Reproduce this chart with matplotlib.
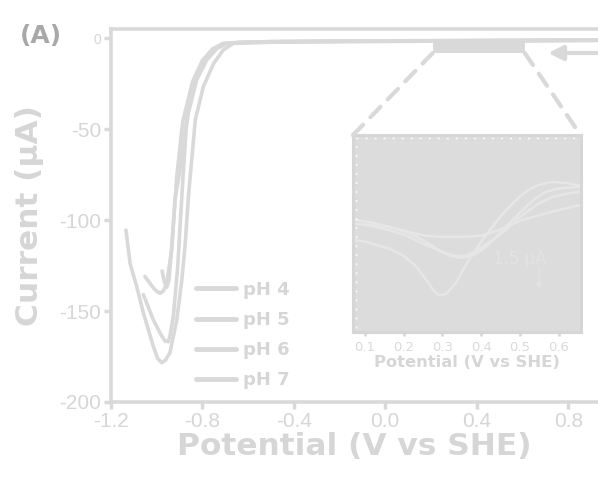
import matplotlib
matplotlib.use("Agg")
import matplotlib.pyplot as plt
from matplotlib.patches import Rectangle, ConnectionPatch

plt.rcParams['axes.unicode_minus'] = False

GRAY = '#d9d9d9'
TXT = '#d6d6d6'

# ---- data (main panel) ----
labels = ['pH 4', 'pH 5', 'pH 6', 'pH 7']

x_ph4 = [0.93, 0.6, 0.2, -0.2, -0.5, -0.62, -0.69, -0.735, -0.78, -0.824, -0.868, -0.90, -0.919, -0.933, -0.955, -0.97, -0.984, -1.0, -1.015, -1.05]
y_ph4 = [-1.0, -1.2, -1.4, -1.6, -1.9, -2.3, -2.9, -5.7, -12, -23, -45, -75, -89, -116, -135, -139, -140.3, -139, -137, -131]

x_ph5 = [0.93, 0.6, 0.2, -0.2, -0.5, -0.64, -0.71, -0.755, -0.80, -0.842, -0.885, -0.91, -0.93, -0.945, -0.955, -0.965, -0.975]
y_ph5 = [-1.1, -1.3, -1.5, -1.7, -2.0, -2.4, -3.0, -6.0, -12.5, -24, -46, -75, -110, -133, -137, -134, -128]

x_ph6 = [0.93, 0.6, 0.2, -0.2, -0.5, -0.65, -0.705, -0.75, -0.795, -0.85, -0.87, -0.883, -0.895, -0.907, -0.926, -0.94, -0.948, -0.962, -0.98, -1.013, -1.057]
y_ph6 = [-1.2, -1.4, -1.6, -1.8, -2.1, -2.5, -3.0, -6.2, -13, -30, -50, -75, -100, -126, -153, -163, -166.9, -166.5, -163, -155, -141]

x_ph7 = [0.93, 0.6, 0.2, -0.2, -0.5, -0.664, -0.708, -0.75, -0.795, -0.83, -0.86, -0.875, -0.889, -0.911, -0.941, -0.96, -0.977, -0.995, -1.013, -1.057, -1.086, -1.115, -1.133]
y_ph7 = [-1.3, -1.5, -1.7, -2.0, -2.3, -2.9, -6.6, -14, -26.7, -45, -87, -114.7, -133, -155, -173, -177, -178.4, -176, -169.6, -151, -136.6, -123.8, -105.5]

main_x = [x_ph4, x_ph5, x_ph6, x_ph7]
main_y = [y_ph4, y_ph5, y_ph6, y_ph7]

xticks = [-1.2, -0.8, -0.4, 0.0, 0.4, 0.8]
xticklabels = ['-1.2', '-0.8', '-0.4', '0.0', '0.4', '0.8']
yticks = [0, -50, -100, -150, -200]
yticklabels = ['0', '-50', '-100', '-150', '-200']

# ---- data (inset) ----
ins_x1 = [0.07, 0.10, 0.13, 0.164, 0.20, 0.233, 0.26, 0.28, 0.292, 0.31, 0.335, 0.355, 0.378, 0.40, 0.421, 0.45, 0.48, 0.505, 0.532, 0.555, 0.583, 0.62, 0.651]
ins_y1 = [-5.83, -5.9, -6.1, -6.3, -6.7, -7.3, -8.1, -8.7, -8.9, -8.8, -8.2, -7.4, -6.6, -5.9, -5.3, -4.5, -3.8, -3.3, -2.9, -2.7, -2.6, -2.65, -2.8]
ins_x2 = [0.07, 0.12, 0.164, 0.21, 0.25, 0.29, 0.335, 0.37, 0.403, 0.435, 0.463, 0.50, 0.549, 0.60, 0.651]
ins_y2 = [-4.68, -4.85, -5.09, -5.35, -5.56, -5.64, -5.65, -5.62, -5.56, -5.35, -5.09, -4.75, -4.44, -4.15, -3.89]
ins_x3 = [0.07, 0.12, 0.164, 0.21, 0.25, 0.292, 0.32, 0.344, 0.36, 0.378, 0.40, 0.421, 0.44, 0.463, 0.49, 0.515, 0.54, 0.566, 0.60, 0.651]
ins_y3 = [-4.91, -4.98, -5.09, -5.4, -5.83, -6.39, -6.7, -6.8, -6.78, -6.67, -6.4, -6.02, -5.6, -5.09, -4.5, -3.98, -3.5, -3.15, -2.95, -2.87]
ins_x4 = [0.07, 0.12, 0.164, 0.21, 0.25, 0.29, 0.327, 0.345, 0.361, 0.38, 0.403, 0.43, 0.463, 0.49, 0.523, 0.55, 0.583, 0.62, 0.651]
ins_y4 = [-4.9, -5.05, -5.28, -5.6, -6.02, -6.4, -6.67, -6.72, -6.67, -6.5, -6.2, -5.8, -5.28, -4.7, -4.17, -3.75, -3.43, -3.25, -3.15]
inset_x = [ins_x1, ins_x2, ins_x3, ins_x4]
inset_y = [ins_y1, ins_y2, ins_y3, ins_y4]
ins_xticks = [0.1, 0.2, 0.3, 0.4, 0.5, 0.6]
ins_xticklabels = ['0.1', '0.2', '0.3', '0.4', '0.5', '0.6']

fig = plt.figure(figsize=(5.98, 4.78), dpi=100)
ax = fig.add_axes([0.185, 0.159, 0.815, 0.780])

for xs, ys, lab in zip(main_x, main_y, labels):
    ax.plot(xs, ys, color=GRAY, lw=2.6, label=lab, solid_capstyle='round',
            solid_joinstyle='round')

ax.set_xlim(-1.2, 0.93)
ax.set_ylim(-200, 4.9)
ax.set_xticks(xticks)
ax.set_xticklabels(xticklabels, family='Liberation Sans', fontsize=15, color=TXT)
ax.set_yticks(yticks)
ax.set_yticklabels(yticklabels, family='Liberation Sans', fontsize=15, color=TXT)
ax.get_yticklabels()[0].set_fontsize(10)
ax.tick_params(axis='both', direction='out', length=5, width=2.5, color=GRAY, pad=2)
for s in ['left', 'bottom', 'top']:
    ax.spines[s].set_color(GRAY)
    ax.spines[s].set_linewidth(2.6)
ax.spines['right'].set_visible(False)

ax.set_xlabel('Potential (V vs SHE)', fontsize=22.5, fontweight='bold', color=TXT,
              family='DejaVu Sans', labelpad=1)
ax.set_ylabel('Current (µA)', fontsize=22.5, fontweight='bold', color=TXT,
              family='DejaVu Sans', labelpad=11)

fig.text(0.034, 0.925, '(A)', fontsize=18, fontweight='bold', color='#a8a8a8',
         family='DejaVu Sans', va='center', ha='left')

leg = ax.legend(loc='upper left', bbox_to_anchor=(0.328, 0.413),
                bbox_transform=fig.transFigure, frameon=False,
                handlelength=2.2, handletextpad=0.4, labelspacing=0.68,
                borderpad=0, borderaxespad=0,
                prop={'family': 'DejaVu Sans', 'weight': 'bold', 'size': 13})
for t in leg.get_texts():
    t.set_color(TXT)
for h in leg.get_lines():
    h.set_linewidth(3.5)

# zoom rectangle in main axes
ax.add_patch(Rectangle((0.208, -8.2), 0.402, 6.0, facecolor=GRAY, edgecolor='none',
                       clip_on=False, zorder=3))

# scan direction arrow
ax.annotate('', xy=(0.70, -8.2), xytext=(0.96, -8.2), annotation_clip=False,
            arrowprops=dict(arrowstyle='-|>', color=GRAY, lw=3, mutation_scale=22))

# inset
axi = fig.add_axes([0.590, 0.305, 0.381, 0.412])
axi.set_facecolor('#dcdcdc')
for xs, ys in zip(inset_x, inset_y):
    axi.plot(xs, ys, color='#e6e6e6', lw=1.8, solid_joinstyle='round')
axi.set_xlim(0.069, 0.656)
axi.set_ylim(-10.94, 0)
axi.set_xticks(ins_xticks)
axi.set_xticklabels(ins_xticklabels, family='DejaVu Sans', fontsize=9.5, color='#dadada')
axi.set_yticks([])
axi.tick_params(axis='x', direction='out', length=3, width=2, color=GRAY, pad=3)
for s in axi.spines.values():
    s.set_color('#d6d6d6')
    s.set_linewidth(2.2)
axi.set_xlabel('Potential (V vs SHE)', fontsize=11.8, fontweight='bold', color='#d6d6d6',
               family='DejaVu Sans', labelpad=1)
axi.plot([0.012, 0.012], [0.02, 0.985], transform=axi.transAxes, color='white',
         lw=1, ls=(0, (1.5, 5)))
axi.plot([0.012, 0.99], [0.985, 0.985], transform=axi.transAxes, color='white',
         lw=1, ls=(0, (1.5, 5)))
axi.text(0.5, -6.85, '1.5 µA', fontsize=12, color='#e3e3e3', family='DejaVu Sans',
         ha='center', va='center')
axi.annotate('', xy=(0.549, -8.7), xytext=(0.549, -7.2),
             arrowprops=dict(arrowstyle='-|>', color='#e3e3e3', lw=1, mutation_scale=8))

# connector dashed lines
for (xa, xb) in [((0.208, -8.2), (0, 1)), ((0.61, -8.2), (1, 1))]:
    cp = ConnectionPatch(xyA=xa, coordsA=ax.transData, xyB=xb, coordsB=axi.transAxes,
                         color=GRAY, lw=3, linestyle=(0, (3.5, 2.5)))
    fig.add_artist(cp)

fig.savefig('out.png', dpi=100)
